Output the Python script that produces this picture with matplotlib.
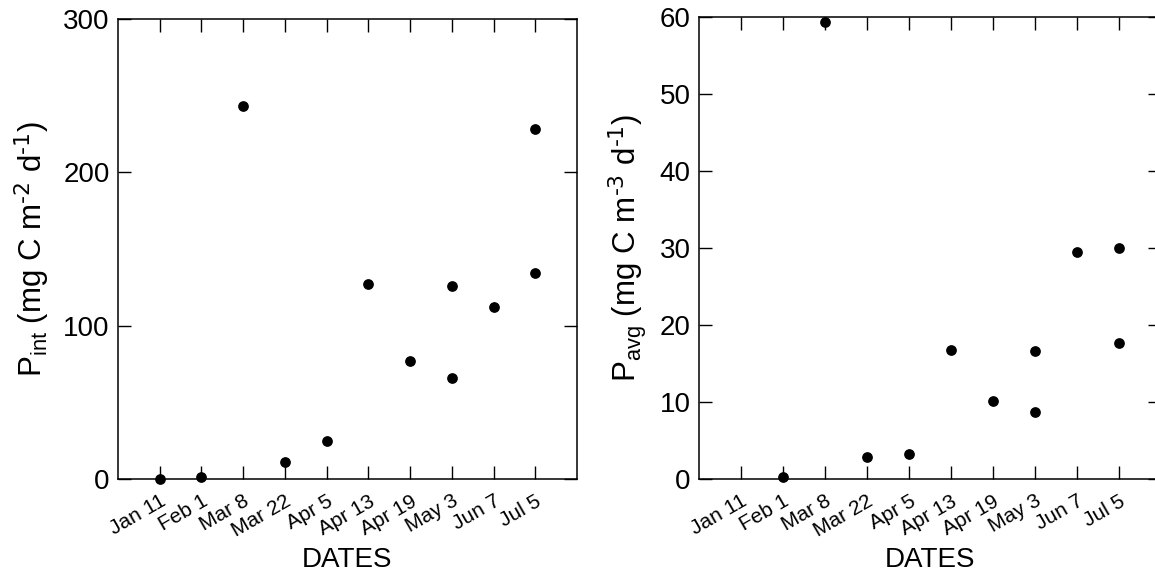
import matplotlib
matplotlib.use("Agg")
import matplotlib.pyplot as plt
import numpy as np

plt.rcParams['font.family'] = ['Liberation Sans', 'DejaVu Sans']
plt.rcParams['mathtext.default'] = 'regular'

# sampling dates (categorical axis)
dates = ["Jan 11", "Feb 1", "Mar 8", "Mar 22", "Apr 5", "Apr 13",
         "Apr 19", "May 3", "Jun 7", "Jul 5"]

# integrated production, mg C m-2 d-1 (index into dates, value)
pint_idx = [0, 1, 2, 3, 4, 5, 6, 7, 7, 8, 9, 9]
pint_val = [0.3, 1.0, 243.5, 11.0, 24.8, 127.0, 77.0, 125.6, 66.0, 112.0, 228.0, 134.5]

# average production, mg C m-3 d-1
pavg_idx = [1, 2, 3, 4, 5, 6, 7, 7, 8, 9, 9]
pavg_val = [0.2, 59.4, 2.8, 3.3, 16.7, 10.1, 16.6, 8.7, 29.5, 30.0, 17.7]

fig = plt.figure(figsize=(11.55, 5.79), dpi=100)
ax1 = fig.add_axes([118/1155, 100/579, 459/1155, 460/579])
ax2 = fig.add_axes([699/1155, 100/579, 462/1155, 462/579])

xpos = np.arange(1, len(dates) + 1)


def style(ax, ymax, yticks, ylabel):
    ax.set_xlim(0, 11)
    ax.set_ylim(0, ymax)
    ax.set_xticks(xpos)
    ax.set_xticklabels(dates, rotation=30, ha='right', rotation_mode='anchor')
    ax.set_yticks(yticks)
    ax.tick_params(direction='in', top=True, right=True, length=9.5,
                   width=1, labelsize=20, colors='black')
    ax.tick_params(axis='x', pad=9, labelsize=15)
    ax.tick_params(axis='y', pad=6)
    for s in ax.spines.values():
        s.set_linewidth(1.1)
    ax.set_xlabel("DATES", fontsize=20, labelpad=5)
    ax.set_ylabel(ylabel, fontsize=22.5, labelpad=8)


ax1.scatter(xpos[pint_idx], pint_val, s=45, color='black', zorder=3, clip_on=False)
style(ax1, 300, [0, 100, 200, 300], r'P$_{int}$ (mg C m$^{\text{-2}}$ d$^{\text{-1}}$)')

ax2.scatter(xpos[pavg_idx], pavg_val, s=45, color='black', zorder=3, clip_on=False)
style(ax2, 60, [0, 10, 20, 30, 40, 50, 60], r'P$_{avg}$ (mg C m$^{\text{-3}}$ d$^{\text{-1}}$)')

plt.savefig("out.png", dpi=100)
